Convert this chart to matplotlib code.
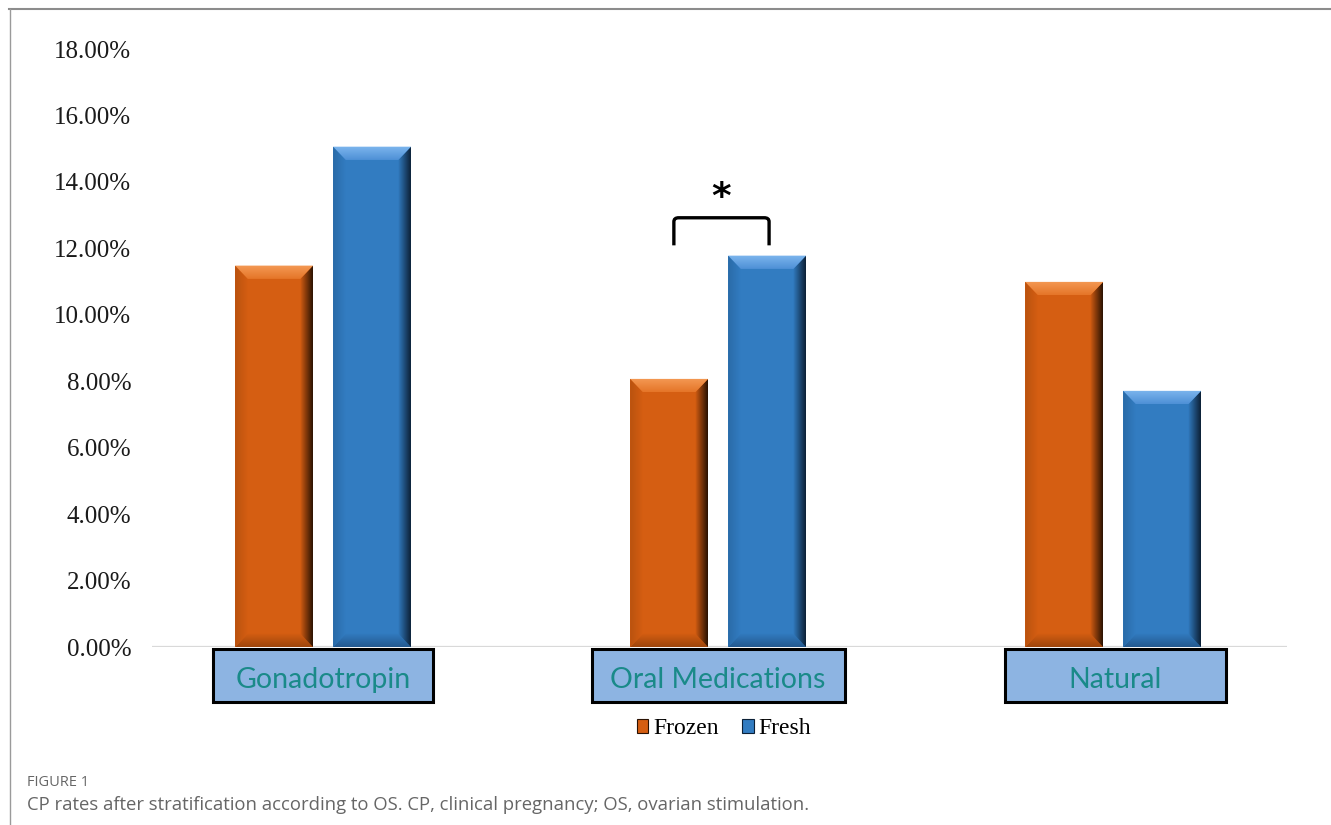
import numpy as np
import matplotlib
matplotlib.use("Agg")
import matplotlib.pyplot as plt
from matplotlib.patches import Polygon, Rectangle, Patch
from matplotlib.path import Path
from matplotlib.patches import PathPatch
from matplotlib.lines import Line2D
import matplotlib.transforms as mtransforms
from matplotlib.colors import to_rgb

# ---------------- data ----------------
categories = ["Gonadotropin", "Oral Medications", "Natural"]
series_names = ["Frozen", "Fresh"]
frozen = [0.1148, 0.0807, 0.1099]
fresh = [0.1506, 0.1178, 0.0771]
y_ticks = [0.00, 0.02, 0.04, 0.06, 0.08, 0.10, 0.12, 0.14, 0.16, 0.18]
significant_category = "Oral Medications"
caption_label = "FIGURE 1"
caption_text = "CP rates after stratification according to OS. CP, clinical pregnancy; OS, ovarian stimulation."

# ---------------- style ----------------
W, H, DPI = 1331, 825, 100
fig = plt.figure(figsize=(W / DPI, H / DPI), dpi=DPI)
fig.patch.set_facecolor("white")

ax = fig.add_axes([152 / W, 1 - 647 / H, (1287 - 152) / W, (647 - 49) / H])
ax.set_facecolor("none")

XMIN, XMAX = -0.433, 2.44
YMIN, YMAX = 0.0, 0.18

bar_w = 0.197
offset = 0.124
x = np.arange(len(categories))

styles = {
    "Frozen": dict(face="#D55E12", top_hi="#F49A55", top_lo="#E57528",
                   dark="#2A1203", bottom="#9E460C", left="#B9520F"),
    "Fresh": dict(face="#327CC1", top_hi="#7DB6EE", top_lo="#4E90D6",
                  dark="#0C2036", bottom="#24598F", left="#2A6BA8"),
}

# bevel sizes in data units
dx = 0.032
dy = 0.0040


def grad_image(ax, poly_pts, c0, c1, direction, zorder=3):
    poly = Polygon(poly_pts, closed=True, transform=ax.transData,
                   facecolor="none", edgecolor="none")
    xs = [p[0] for p in poly_pts]
    ys = [p[1] for p in poly_pts]
    n = 64
    a = np.array(to_rgb(c0))
    b = np.array(to_rgb(c1))
    t = np.linspace(0, 1, n)
    cols = a[None, :] * (1 - t[:, None]) + b[None, :] * t[:, None]
    if direction == "v":  # c0 at bottom, c1 at top
        arr = cols[:, None, :]
    else:  # c0 at left, c1 at right
        arr = cols[None, :, :]
    im = ax.imshow(arr, extent=[min(xs), max(xs), min(ys), max(ys)],
                   origin="lower", aspect="auto", interpolation="bilinear",
                   zorder=zorder)
    im.set_clip_path(poly)
    return im


def bevel(ax, patch, st):
    x0 = patch.get_x()
    w = patch.get_width()
    h = patch.get_height()
    x1 = x0 + w
    grad_image(ax, [(x0, 0), (x1, 0), (x1 - dx, dy), (x0 + dx, dy)],
               st["bottom"], st["face"], "v", zorder=3)
    grad_image(ax, [(x0, 0), (x0, h), (x0 + dx, h - dy), (x0 + dx, dy)],
               st["left"], st["face"], "h", zorder=3)
    grad_image(ax, [(x1, 0), (x1, h), (x1 - dx, h - dy), (x1 - dx, dy)],
               st["face"], st["dark"], "h", zorder=3)
    grad_image(ax, [(x0, h), (x1, h), (x1 - dx, h - dy), (x0 + dx, h - dy)],
               st["top_lo"], st["top_hi"], "v", zorder=4)


bars_frozen = ax.bar(x - offset, frozen, width=bar_w,
                     color=styles["Frozen"]["face"], zorder=2)
bars_fresh = ax.bar(x + offset, fresh, width=bar_w,
                    color=styles["Fresh"]["face"], zorder=2)
for p in bars_frozen:
    bevel(ax, p, styles["Frozen"])
for p in bars_fresh:
    bevel(ax, p, styles["Fresh"])

# baseline
ax.axhline(0, color="#D9D9D9", lw=1.6, zorder=1)

ax.set_xlim(XMIN, XMAX)
ax.set_ylim(YMIN, YMAX)
for s in ax.spines.values():
    s.set_visible(False)
ax.set_xticks([])
ax.set_yticks(y_ticks)
ax.set_yticklabels([f"{v * 100:.2f}%" for v in y_ticks],
                   fontfamily="Liberation Serif", fontsize=18, color="#1a1a1a")
ax.tick_params(axis="y", length=0, pad=15)

# category label boxes
box_widths = [0.557, 0.640, 0.560]
box_shift = [0.0, 0.0, 0.006]
trans = mtransforms.blended_transform_factory(ax.transData, ax.transAxes)
for i, cat in enumerate(categories):
    bw = box_widths[i]
    cx = x[i] + box_shift[i]
    rect = Rectangle((cx - bw / 2, -0.092), bw, 0.089, transform=trans,
                     facecolor="#8DB4E2", edgecolor="black", lw=2.2,
                     clip_on=False, zorder=5)
    ax.add_patch(rect)
    ax.text(cx, -0.055, cat, transform=trans, ha="center", va="center",
            fontfamily="Lato", fontsize=20.5, color="#1A8A89",
            clip_on=False, zorder=6)

# significance bracket
k = categories.index(significant_category)
top = max(frozen[k], fresh[k])
bx0 = x[k] - offset + 0.012
bx1 = x[k] + offset + 0.005
yt = top + 0.0114
yb = top + 0.0031
r_x = 0.012
r_y = 0.0012
verts = [(bx0, yb), (bx0, yt - r_y), (bx0, yt), (bx0 + r_x, yt),
         (bx1 - r_x, yt), (bx1, yt), (bx1, yt - r_y), (bx1, yb)]
codes = [Path.MOVETO, Path.LINETO, Path.CURVE3, Path.CURVE3,
         Path.LINETO, Path.CURVE3, Path.CURVE3, Path.LINETO]
ax.add_patch(PathPatch(Path(verts, codes), facecolor="none",
                       edgecolor="black", lw=2.4, capstyle="butt",
                       zorder=6))
ax.text((bx0 + bx1) / 2, yt + 0.0058, "*", ha="center", va="center",
        fontfamily="DejaVu Sans", fontweight="bold", fontsize=27,
        color="black", zorder=6)

# legend
handles = [Patch(facecolor=styles[n]["face"], edgecolor=styles[n]["dark"], lw=0.8)
           for n in series_names]
fig.legend(handles, series_names, loc="center",
           bbox_to_anchor=(724 / W, 1 - 729 / H), ncol=2, frameon=False,
           handlelength=0.5, handleheight=0.5, handletextpad=0.2,
           columnspacing=1.0, prop=dict(family="Liberation Serif", size=17))

# frame lines
fig.add_artist(Line2D([9 / W, 1.0], [1 - 8.5 / H, 1 - 8.5 / H],
                      transform=fig.transFigure, color="#8C8C8C", lw=1.5))
fig.add_artist(Line2D([9.5 / W, 9.5 / W], [0, 1 - 8.5 / H],
                      transform=fig.transFigure, color="#9A9A9A", lw=1.0))

# caption
fig.text(27 / W, 1 - 782 / H, caption_label, ha="left", va="center",
         fontfamily="Open Sans", fontsize=10.5, color="#666666")
fig.text(27 / W, 1 - 805 / H, caption_text, ha="left", va="center",
         fontfamily="Open Sans", fontsize=13.3, color="#666666")

fig.savefig("out.png", dpi=DPI, facecolor="white")
